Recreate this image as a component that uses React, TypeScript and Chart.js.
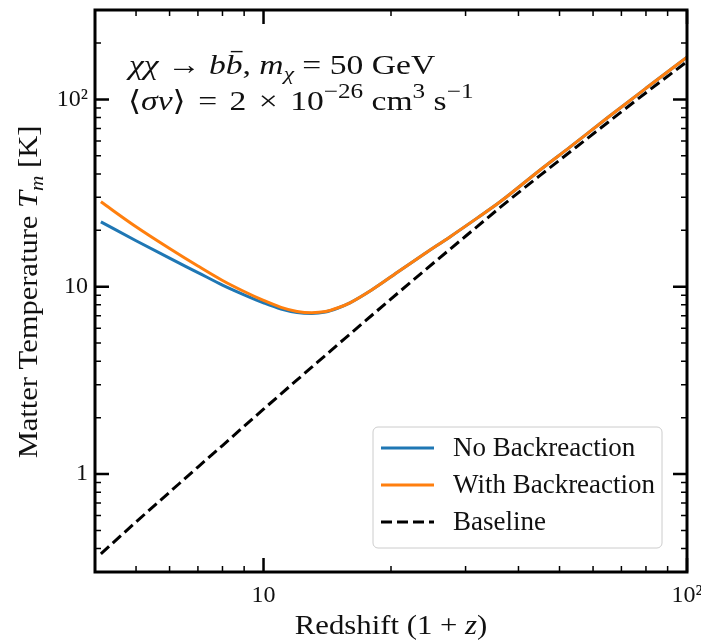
import React, { useEffect, useRef } from "react";
import { Chart, registerables } from "chart.js";

Chart.register(...registerables);

// ---------- data ----------
const REDSHIFT = [4.13, 5, 6, 7, 8, 9, 10, 11, 12, 13, 14, 15, 16, 18, 21, 24, 27.6, 32, 36.2, 45, 53, 65, 80, 100];
const T_NO_BACKREACTION = [22.2, 17.6, 14.2, 11.9, 10.2, 9.05, 8.2, 7.6, 7.28, 7.2, 7.33, 7.7, 8.2, 9.6, 12.2, 15.0, 18.5, 23.3, 28.4, 42, 55.8, 80, 114.6, 168];
const T_WITH_BACKREACTION = [28.4, 20.9, 16.0, 12.9, 10.8, 9.43, 8.45, 7.76, 7.38, 7.27, 7.37, 7.72, 8.2, 9.6, 12.2, 15.0, 18.5, 23.3, 28.4, 42, 55.8, 80, 114.6, 168];
const T_BASELINE = [0.375, 0.555, 0.8, 1.09, 1.42, 1.8, 2.22, 2.68, 3.18, 3.72, 4.3, 4.93, 5.58, 7.02, 9.45, 12.2, 15.9, 21.0, 26.5, 39.3, 52.5, 75.3, 108.5, 159];
const SERIES_LABELS = ["No Backreaction", "With Backreaction", "Baseline"];
const SERIES_COLORS = ["#1f77b4", "#ff7f0e", "#000000"];
const X_TICKS = [10, 100];
const X_TICK_LABELS = ["10", "10²"];
const Y_TICKS = [1, 10, 100];
const Y_TICK_LABELS = ["1", "10", "10²"];
const X_RANGE = [4, 100];
const Y_RANGE = [0.3, 300];

const FONT = "'Liberation Serif', 'DejaVu Serif', serif";
const TEXT_COLOR = "#111111";

type Seg = { t: string; it?: boolean; sub?: boolean; sup?: boolean; bar?: boolean; gap?: number };

const ANNOT_LINE1: Seg[] = [
  { t: "χχ", it: true },
  { t: " → " },
  { t: "b", it: true },
  { t: "b", it: true, bar: true },
  { t: ", " },
  { t: "m", it: true },
  { t: "χ", it: true, sub: true },
  { t: " = 50 GeV" },
];
const ANNOT_LINE2: Seg[] = [
  { t: "⟨" },
  { t: "σv", it: true },
  { t: "⟩ ", gap: 0.12 },
  { t: "=", gap: 0.12 },
  { t: " 2 ", gap: 0.12 },
  { t: "×", gap: 0.12 },
  { t: " 10" },
  { t: "−26", sup: true },
  { t: " cm" },
  { t: "3", sup: true },
  { t: " s" },
  { t: "−1", sup: true },
];
const Y_TITLE: Seg[] = [{ t: "Matter Temperature " }, { t: "T", it: true }, { t: "m", it: true, sub: true }, { t: " [K]" }];
const X_TITLE: Seg[] = [{ t: "Redshift (1 + " }, { t: "z", it: true }, { t: ")" }];

function segFont(s: Seg, size: number) {
  const sz = s.sub ? size * 0.7 : s.sup ? size * 0.75 : size;
  return `${s.it ? "italic " : ""}${sz}px ${FONT}`;
}
function segWidth(ctx: CanvasRenderingContext2D, s: Seg, size: number) {
  ctx.font = segFont(s, size);
  return ctx.measureText(s.t).width + (s.gap || 0) * size;
}
function richWidth(ctx: CanvasRenderingContext2D, segs: Seg[], size: number) {
  let w = 0;
  for (const s of segs) w += segWidth(ctx, s, size);
  return w;
}
function drawRich(
  ctx: CanvasRenderingContext2D,
  segs: Seg[],
  x: number,
  y: number,
  size: number,
  align: "left" | "center",
  sx = 1
) {
  ctx.save();
  ctx.textBaseline = "alphabetic";
  ctx.textAlign = "left";
  ctx.fillStyle = TEXT_COLOR;
  ctx.strokeStyle = TEXT_COLOR;
  const total = richWidth(ctx, segs, size);
  ctx.translate(align === "center" ? x - (total * sx) / 2 : x, y);
  ctx.scale(sx, 1);
  let cx = 0;
  for (const s of segs) {
    ctx.font = segFont(s, size);
    const w = ctx.measureText(s.t).width;
    const dy = s.sub ? size * 0.22 : s.sup ? -size * 0.42 : 0;
    ctx.fillText(s.t, cx, dy);
    if (s.bar) {
      ctx.lineWidth = Math.max(1, size * 0.05);
      ctx.beginPath();
      ctx.moveTo(cx + w * 0.3, -size * 0.8);
      ctx.lineTo(cx + w * 1.0, -size * 0.8);
      ctx.stroke();
    }
    cx += w + (s.gap || 0) * size;
  }
  ctx.restore();
}

function logTicks(min: number, max: number) {
  const out: { v: number; major: boolean }[] = [];
  for (let d = Math.floor(Math.log10(min)); d <= Math.ceil(Math.log10(max)); d++) {
    for (let k = 1; k <= 9; k++) {
      const v = k * Math.pow(10, d);
      if (v >= min * 0.9999 && v <= max * 1.0001) out.push({ v, major: k === 1 });
    }
  }
  return out;
}

const decorPlugin = {
  id: "decor",
  afterDraw(chart: any) {
    const ctx: CanvasRenderingContext2D = chart.ctx;
    const a = chart.chartArea;
    const xs = chart.scales.x;
    const ys = chart.scales.y;
    ctx.save();
    ctx.strokeStyle = "#000";
    ctx.lineCap = "butt";
    // ticks inside, on all four sides
    for (const t of logTicks(X_RANGE[0], X_RANGE[1])) {
      const px = xs.getPixelForValue(t.v);
      const len = t.major ? 14 : 6;
      ctx.lineWidth = t.major ? 2.5 : 1.5;
      ctx.beginPath();
      ctx.moveTo(px, a.bottom);
      ctx.lineTo(px, a.bottom - len);
      ctx.moveTo(px, a.top);
      ctx.lineTo(px, a.top + len);
      ctx.stroke();
    }
    for (const t of logTicks(Y_RANGE[0], Y_RANGE[1])) {
      const py = ys.getPixelForValue(t.v);
      const len = t.major ? 14 : 6;
      ctx.lineWidth = t.major ? 2.5 : 1.5;
      ctx.beginPath();
      ctx.moveTo(a.left, py);
      ctx.lineTo(a.left + len, py);
      ctx.moveTo(a.right, py);
      ctx.lineTo(a.right - len, py);
      ctx.stroke();
    }
    // frame
    ctx.lineWidth = 3;
    ctx.strokeRect(a.left, a.top, a.right - a.left, a.bottom - a.top);

    // axis titles
    drawRich(ctx, X_TITLE, (a.left + a.right) / 2, 634, 27, "center", 1.14);
    ctx.save();
    ctx.translate(37, 292);
    ctx.rotate(-Math.PI / 2);
    drawRich(ctx, Y_TITLE, 0, 0, 27, "center", 1.13);
    ctx.restore();

    // annotation
    drawRich(ctx, ANNOT_LINE1, 129, 74, 28, "left", 1.2);
    drawRich(ctx, ANNOT_LINE2, 128, 110, 28, "left", 1.2);

    // legend
    const lx0 = 373, ly0 = 427, lw = 289, lh = 121;
    ctx.beginPath();
    (ctx as any).roundRect(lx0, ly0, lw, lh, 5);
    ctx.fillStyle = "rgba(255,255,255,0.85)";
    ctx.fill();
    ctx.lineWidth = 1;
    ctx.strokeStyle = "#cccccc";
    ctx.stroke();
    chart.data.datasets.forEach((ds: any, i: number) => {
      const cy = 448 + i * 37;
      ctx.beginPath();
      ctx.strokeStyle = ds.borderColor;
      ctx.lineWidth = ds.borderWidth;
      ctx.setLineDash(ds.borderDash || []);
      ctx.moveTo(381, cy);
      ctx.lineTo(434, cy);
      ctx.stroke();
      ctx.setLineDash([]);
      ctx.fillStyle = TEXT_COLOR;
      ctx.font = `27px ${FONT}`;
      ctx.textBaseline = "middle";
      ctx.textAlign = "left";
      ctx.fillText(ds.label, 453, cy + 1);
    });
    ctx.restore();
  },
};

export default function App() {
  const ref = useRef<HTMLCanvasElement | null>(null);
  useEffect(() => {
    if (!ref.current) return;
    const mk = (ys: number[]) => REDSHIFT.map((x, i) => ({ x, y: ys[i] }));
    const chart = new Chart(ref.current, {
      type: "line",
      data: {
        datasets: [
          { label: SERIES_LABELS[0], data: mk(T_NO_BACKREACTION), borderColor: SERIES_COLORS[0], borderWidth: 3, order: 2 },
          { label: SERIES_LABELS[1], data: mk(T_WITH_BACKREACTION), borderColor: SERIES_COLORS[1], borderWidth: 3, order: 1 },
          { label: SERIES_LABELS[2], data: mk(T_BASELINE), borderColor: SERIES_COLORS[2], borderWidth: 3, borderDash: [11, 5], order: 0 },
        ] as any,
      },
      options: {
        animation: false,
        responsive: false,
        events: [],
        elements: { point: { radius: 0 }, line: { cubicInterpolationMode: "monotone", fill: false } },
        layout: { padding: { top: 10, right: 14, left: 0, bottom: 0 } },
        plugins: { legend: { display: false }, tooltip: { enabled: false } },
        scales: {
          x: {
            type: "logarithmic",
            min: X_RANGE[0],
            max: X_RANGE[1],
            grid: { display: false, drawTicks: false },
            border: { display: false },
            ticks: {
              color: TEXT_COLOR,
              font: { family: FONT, size: 24 },
              padding: 9,
              maxRotation: 0,
              autoSkip: false,
              callback: (v: any) => {
                const i = X_TICKS.indexOf(Number(v));
                return i >= 0 ? X_TICK_LABELS[i] : "";
              },
            },
            afterBuildTicks: (s: any) => {
              s.ticks = X_TICKS.map((v) => ({ value: v }));
            },
            afterFit: (s: any) => {
              s.height = 70;
              s.paddingLeft = 0;
              s.paddingRight = 0;
            },
          } as any,
          y: {
            type: "logarithmic",
            min: Y_RANGE[0],
            max: Y_RANGE[1],
            grid: { display: false, drawTicks: false },
            border: { display: false },
            ticks: {
              color: TEXT_COLOR,
              font: { family: FONT, size: 24 },
              padding: 7,
              autoSkip: false,
              callback: (v: any) => {
                const i = Y_TICKS.indexOf(Number(v));
                return i >= 0 ? Y_TICK_LABELS[i] : "";
              },
            },
            afterBuildTicks: (s: any) => {
              s.ticks = Y_TICKS.map((v) => ({ value: v }));
            },
            afterFit: (s: any) => {
              s.width = 95;
              s.paddingTop = 0;
              s.paddingBottom = 0;
            },
          } as any,
        },
      },
      plugins: [decorPlugin],
    });
    return () => chart.destroy();
  }, []);
  return (
    <div style={{ position: "fixed", left: 0, top: 0, width: 701, height: 642, background: "#fff" }}>
      <canvas ref={ref} width={701} height={642} style={{ display: "block", width: 701, height: 642 }} />
    </div>
  );
}
